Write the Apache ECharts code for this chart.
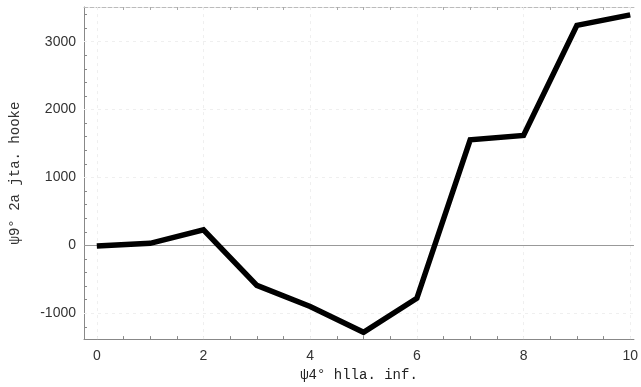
<!DOCTYPE html>
<html><head><meta charset="utf-8">
<script src="https://cdn.jsdelivr.net/npm/echarts@6/dist/echarts.min.js"></script>
<style>html,body{margin:0;padding:0;background:#fff}#c{width:641px;height:387px}</style>
</head><body><div id="c"></div>
<script>
const xValues = [0, 1, 2, 3, 4, 5, 6, 7, 8, 9, 10];
const yValues = [-10, 30, 230, -590, -900, -1280, -780, 1555, 1620, 3240, 3395];
const xTicks = [0, 2, 4, 6, 8, 10];
const yTicks = [-1000, 0, 1000, 2000, 3000];
const xMinorTicks = [0, 0.5, 1, 1.5, 2, 2.5, 3, 3.5, 4, 4.5, 5, 5.5, 6, 6.5, 7, 7.5, 8, 8.5, 9, 9.5, 10];
const yMinorTicks = [-1200, -1000, -800, -600, -400, -200, 0, 200, 400, 600, 800, 1000, 1200, 1400, 1600, 1800, 2000, 2200, 2400, 2600, 2800, 3000, 3200, 3400];
const xName = 'ψ4° hlla. inf.';
const yName = 'ψ9° 2a jta. hooke';

const chart = echarts.init(document.getElementById('c'), null, {renderer: 'canvas'});
const gridLineStyle = {color: '#efefef', width: 1, type: [3, 4]};
const markData = [];
xTicks.forEach(v => markData.push({xAxis: v, lineStyle: gridLineStyle}));
yTicks.filter(v => v !== 0).forEach(v => markData.push({yAxis: v, lineStyle: gridLineStyle}));
markData.push({yAxis: 0, lineStyle: {color: '#999', width: 1, type: 'solid'}});

chart.setOption({
  animation: false,
  backgroundColor: '#fff',
  grid: {left: 84, right: 5, top: 7, bottom: 40},
  xAxis: [{
    type: 'value', min: -0.24, max: 10.07,
    name: xName, nameLocation: 'middle', nameGap: 26,
    nameTextStyle: {fontFamily: 'Liberation Mono', fontSize: 14, color: '#222'},
    axisLine: {show: true, onZero: false, lineStyle: {color: '#888', width: 1}},
    axisTick: {show: true, inside: true, length: 3, customValues: xMinorTicks, lineStyle: {color: '#888'}},
    axisLabel: {customValues: xTicks, fontFamily: 'Liberation Sans', fontSize: 14, color: '#333', margin: 10, formatter: v => String(v)},
    splitLine: {show: false}
  }, {
    type: 'value', min: -0.24, max: 10.07, position: 'top',
    axisLine: {show: true, onZero: false, lineStyle: {color: '#bbb', width: 1, type: [4, 2]}},
    axisTick: {show: true, inside: true, length: 3, customValues: xMinorTicks, lineStyle: {color: '#aaa'}},
    axisLabel: {show: false}, splitLine: {show: false}
  }],
  yAxis: {
    type: 'value', min: -1381, max: 3511,
    name: yName, nameLocation: 'middle', nameGap: 62, nameRotate: 90,
    nameTextStyle: {fontFamily: 'Liberation Mono', fontSize: 14, color: '#333'},
    axisLine: {show: true, onZero: false, lineStyle: {color: '#888', width: 1}},
    axisTick: {show: true, inside: true, length: 3, customValues: yMinorTicks, lineStyle: {color: '#888'}},
    axisLabel: {customValues: yTicks, fontFamily: 'Liberation Sans', fontSize: 14, color: '#333', margin: 8, formatter: v => String(v)},
    splitLine: {show: false}
  },
  series: [{
    type: 'line',
    data: xValues.map((x, i) => [x, yValues[i]]),
    showSymbol: false,
    lineStyle: {color: '#000', width: 5.5, join: 'miter'},
    z: 5,
    markLine: {silent: true, symbol: 'none', label: {show: false}, data: markData, z: 1}
  }]
});
</script></body></html>
